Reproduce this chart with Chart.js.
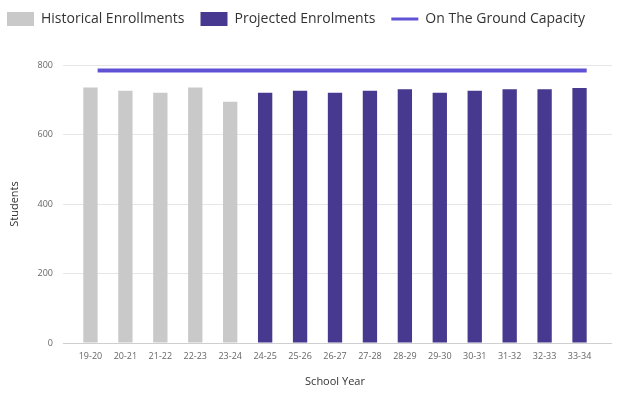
<!DOCTYPE html>
<html>
<head>
<meta charset="utf-8">
<script src="https://cdn.jsdelivr.net/npm/chart.js@4/dist/chart.umd.min.js"></script>
<style>
  html, body { margin: 0; padding: 0; background: #ffffff; }
  #wrap { width: 621px; height: 394px; }
</style>
</head>
<body>
<div id="wrap"><canvas id="c" width="621" height="394"></canvas></div>
<script>
// ---- data ----
const schoolYears = ['19-20','20-21','21-22','22-23','23-24','24-25','25-26','26-27','27-28','28-29','29-30','30-31','31-32','32-33','33-34'];
const historicalEnrollments = [735, 726, 720, 735, 694, null, null, null, null, null, null, null, null, null, null];
const projectedEnrollments  = [null, null, null, null, null, 720, 726, 720, 726, 730, 720, 726, 730, 730, 734];
const groundCapacity        = [784, 784, 784, 784, 784, 784, 784, 784, 784, 784, 784, 784, 784, 784, 784];
const yTickValues = [0, 200, 400, 600, 800];

// ---- styles ----
const greyBar = '#c9c9c9';
const navyBar = '#47398f';
const capColor = '#6052d4';
const gridColor = '#e6e6e6';
const baseColor = '#cfcfcf';
const barPct = 0.41;
const lineOffset = barPct / 2; // capacity line drawn from bar right edges

const legendHeight = {
  id: 'legendHeight',
  afterInit(chart) {
    const lg = chart.legend;
    const fit = lg.fit;
    lg.fit = function () { fit.call(this); this.height = 69; };
  }
};

new Chart(document.getElementById('c'), {
  type: 'bar',
  data: {
    labels: schoolYears,
    datasets: [
      { label: 'Historical Enrollments', data: historicalEnrollments, backgroundColor: greyBar,
        grouped: false, barPercentage: barPct, categoryPercentage: 1, borderWidth: 0 },
      { label: 'Projected Enrolments', data: projectedEnrollments, backgroundColor: navyBar,
        grouped: false, barPercentage: barPct, categoryPercentage: 1, borderWidth: 0 },
      { type: 'line', label: 'On The Ground Capacity', xAxisID: 'x2', yAxisID: 'y',
        data: groundCapacity.map((v, i) => ({ x: i + lineOffset, y: v })),
        borderColor: capColor, backgroundColor: capColor, borderWidth: 4,
        pointRadius: 0, borderCapStyle: 'butt', fill: false, tension: 0 }
    ]
  },
  options: {
    responsive: false,
    animation: false,
    layout: { padding: { top: -4, left: -9, right: 0, bottom: 0 } },
    plugins: {
      tooltip: { enabled: false },
      legend: {
        position: 'top',
        align: 'start',
        labels: {
          usePointStyle: true,
          pointStyleWidth: 27,
          boxHeight: 14,
          padding: 16,
          color: '#333333',
          font: { family: '"Open Sans", sans-serif', size: 14 },
          generateLabels(chart) {
            const items = Chart.defaults.plugins.legend.labels.generateLabels(chart);
            items.forEach(it => {
              if (it.datasetIndex === 2) {
                it.pointStyle = 'line'; it.lineWidth = 3; it.strokeStyle = capColor;
              } else {
                it.pointStyle = 'rect'; it.lineWidth = 0;
              }
            });
            return items;
          }
        }
      }
    },
    scales: {
      x: {
        type: 'category',
        offset: true,
        grid: { display: false, drawTicks: false },
        border: { display: false },
        ticks: { color: '#666666', padding: 8, maxRotation: 0, autoSkip: false,
                 font: { family: '"Open Sans", sans-serif', size: 9 } },
        title: { display: true, text: 'School Year', color: '#333333',
                 font: { family: '"Open Sans", sans-serif', size: 11 }, padding: { top: 4, bottom: 6 } },
        afterFit(s) { s.height = 51; }
      },
      x2: {
        type: 'linear',
        display: false,
        offset: false,
        bounds: 'data',
        min: -0.5,
        max: schoolYears.length - 0.5
      },
      y: {
        position: 'left',
        min: yTickValues[0],
        max: yTickValues[yTickValues.length - 1],
        afterBuildTicks(s) { s.ticks = yTickValues.map(v => ({ value: v })); },
        grid: {
          color: c => (c.tick && c.tick.value === 0 ? baseColor : gridColor),
          tickLength: 10,
          lineWidth: 1
        },
        border: { display: false },
        ticks: { color: '#666666', padding: 10,
                 font: { family: '"Open Sans", sans-serif', size: 9 } },
        title: { display: true, text: 'Students', color: '#333333',
                 font: { family: '"Open Sans", sans-serif', size: 11 }, padding: { top: 17, bottom: 0 } },
        afterFit(s) { s.width = 82; }
      },
      yR: {
        position: 'right',
        min: yTickValues[0],
        max: yTickValues[yTickValues.length - 1],
        afterBuildTicks(s) { s.ticks = yTickValues.map(v => ({ value: v })); },
        grid: {
          drawOnChartArea: false,
          color: c => (c.tick && c.tick.value === 0 ? baseColor : gridColor),
          tickLength: 15
        },
        border: { display: false },
        ticks: { display: false },
        afterFit(s) { s.width = 24; }
      }
    }
  },
  plugins: [legendHeight]
});
</script>
</body>
</html>
